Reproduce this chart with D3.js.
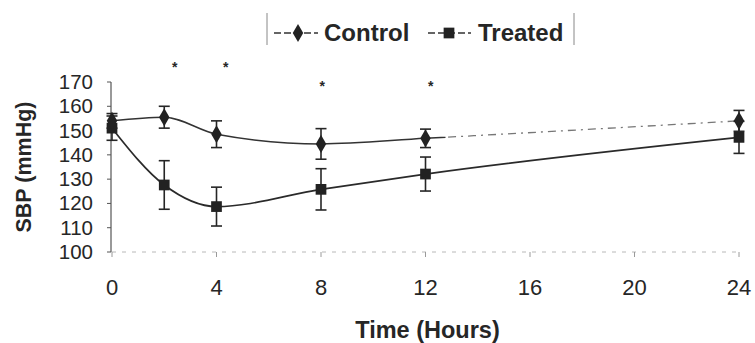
<!DOCTYPE html>
<html>
<head>
<meta charset="utf-8">
<script src="https://cdn.jsdelivr.net/npm/d3@7"></script>
<style>
  html, body { margin: 0; padding: 0; background: #fff; }
  svg { display: block; }
  text { font-family: "Liberation Sans", Arial, sans-serif; fill: #262626; }
</style>
</head>
<body>
<svg id="chart" width="755" height="343"></svg>
<script>
// ---- data ----
const hours = [0, 2, 4, 8, 12, 24];
const controlMean = [154, 155.5, 148.5, 144.5, 146.8, 154];
const controlErr  = [3, 4.5, 5.5, 6.3, 3.8, 4.3];
const treatedMean = [151, 127.6, 118.7, 125.8, 132.1, 147.2];
const treatedErr  = [5, 10, 8, 8.5, 7, 6.6];
const xTicks = [0, 4, 8, 12, 16, 20, 24];
const yTicks = [100, 110, 120, 130, 140, 150, 160, 170];
const asteriskHours  = [2.4, 4.35, 8.05, 12.2];
const asteriskLevels = [177, 177, 169, 169];
const seriesNames = ["Control", "Treated"];
const axisTitles = { x: "Time (Hours)", y: "SBP (mmHg)" };

// ---- layout ----
const svg = d3.select("#chart");
const x = d3.scaleLinear().domain([0, 24]).range([112, 739]);
const y = d3.scaleLinear().domain([100, 170]).range([252, 82]);
const ink = "#262626";

// x axis baseline (faint dotted)
svg.append("line")
  .attr("x1", x(0)).attr("x2", x(24))
  .attr("y1", y(100)).attr("y2", y(100))
  .attr("stroke", "#b8b8b8").attr("stroke-width", 1)
  .attr("stroke-dasharray", "4,6");

// x ticks and labels
const xa = svg.append("g");
xa.selectAll("line.xt").data(xTicks).join("line")
  .attr("x1", d => x(d)).attr("x2", d => x(d))
  .attr("y1", y(100)).attr("y2", y(100) + 5)
  .attr("stroke", "#9a9a9a").attr("stroke-width", 1);
xa.selectAll("text").data(xTicks).join("text")
  .attr("x", d => x(d)).attr("y", 295)
  .attr("text-anchor", "middle")
  .style("font-size", "22px")
  .text(d => d);

// y axis
svg.append("line")
  .attr("x1", 111).attr("x2", 111)
  .attr("y1", y(170)).attr("y2", y(100))
  .attr("stroke", "#555").attr("stroke-width", 1.2);
svg.selectAll("line.yt").data(yTicks).join("line")
  .attr("x1", 107).attr("x2", 111)
  .attr("y1", d => y(d)).attr("y2", d => y(d))
  .attr("stroke", "#555").attr("stroke-width", 1);
svg.selectAll("text.yl").data(yTicks).join("text")
  .attr("class", "yl")
  .attr("x", 93).attr("y", d => y(d) + 7)
  .attr("text-anchor", "end")
  .style("font-size", "20.5px")
  .text(d => d);

// axis titles
svg.append("text")
  .attr("transform", `translate(31, ${(y(100) + y(170)) / 2}) rotate(-90)`)
  .attr("text-anchor", "middle")
  .style("font-size", "21.5px").style("font-weight", "bold")
  .text(axisTitles.y);
svg.append("text")
  .attr("x", (x(0) + x(24)) / 2 + 2).attr("y", 338)
  .attr("text-anchor", "middle")
  .style("font-size", "23.5px").style("font-weight", "bold")
  .text(axisTitles.x);

// clip paths for control line solid/dashed parts
const defs = svg.append("defs");
defs.append("clipPath").attr("id", "leftPart").append("rect")
  .attr("x", 0).attr("y", 0).attr("width", x(12) + 20).attr("height", 343);
defs.append("clipPath").attr("id", "rightPart").append("rect")
  .attr("x", x(12) + 20).attr("y", 0).attr("width", 755).attr("height", 343);

const line = d3.line().x(d => x(d[0])).y(d => y(d[1])).curve(d3.curveMonotoneX);
const cPts = hours.map((h, i) => [h, controlMean[i]]);
const tPts = hours.map((h, i) => [h, treatedMean[i]]);

svg.append("path").attr("d", line(cPts))
  .attr("fill", "none").attr("stroke", "#333").attr("stroke-width", 1.5)
  .attr("clip-path", "url(#leftPart)");
svg.append("path").attr("d", line(cPts))
  .attr("fill", "none").attr("stroke", "#777").attr("stroke-width", 1.3)
  .attr("stroke-dasharray", "8,5,2,5")
  .attr("clip-path", "url(#rightPart)");
svg.append("path").attr("d", line(tPts))
  .attr("fill", "none").attr("stroke", "#2a2a2a").attr("stroke-width", 1.7);

// error bars
function errorBars(means, errs) {
  const g = svg.append("g").attr("stroke", ink).attr("stroke-width", 1.6);
  hours.forEach((h, i) => {
    const cx = x(h), top = y(means[i] + errs[i]), bot = y(means[i] - errs[i]);
    g.append("line").attr("x1", cx).attr("x2", cx).attr("y1", top).attr("y2", bot);
    g.append("line").attr("x1", cx - 5.5).attr("x2", cx + 5.5).attr("y1", top).attr("y2", top);
    g.append("line").attr("x1", cx - 5.5).attr("x2", cx + 5.5).attr("y1", bot).attr("y2", bot);
  });
}
errorBars(controlMean, controlErr);
errorBars(treatedMean, treatedErr);

// markers
const diamond = d3.symbol().type(d3.symbolDiamond).size(95);
const square = d3.symbol().type(d3.symbolSquare).size(115);
svg.selectAll("path.tm").data(tPts).join("path")
  .attr("class", "tm")
  .attr("transform", d => `translate(${x(d[0])},${y(d[1])})`)
  .attr("d", square()).attr("fill", "#222");
svg.selectAll("path.cm").data(cPts).join("path")
  .attr("class", "cm")
  .attr("transform", d => `translate(${x(d[0])},${y(d[1])})`)
  .attr("d", diamond()).attr("fill", "#222");

// significance asterisks
svg.selectAll("text.ast").data(asteriskHours).join("text")
  .attr("class", "ast")
  .attr("x", d => x(d)).attr("y", (d, i) => y(asteriskLevels[i]) + 7)
  .attr("text-anchor", "middle")
  .style("font-size", "14px").style("font-weight", "bold")
  .text("*");

// legend
const lg = svg.append("g");
lg.append("line").attr("x1", 267).attr("x2", 267).attr("y1", 13).attr("y2", 45)
  .attr("stroke", "#888").attr("stroke-width", 1);
lg.append("line").attr("x1", 574).attr("x2", 574).attr("y1", 13).attr("y2", 45)
  .attr("stroke", "#888").attr("stroke-width", 1);
const legendItems = [
  { name: seriesNames[0], x0: 274, x1: 318, mx: 298, tx: 324, sym: diamond },
  { name: seriesNames[1], x0: 428, x1: 471, mx: 449, tx: 478, sym: square }
];
legendItems.forEach(it => {
  lg.append("line").attr("x1", it.x0).attr("x2", it.x1).attr("y1", 33).attr("y2", 33)
    .attr("stroke", "#333").attr("stroke-width", 1.5).attr("stroke-dasharray", "7,3");
  lg.append("path").attr("transform", `translate(${it.mx},33)`).attr("d", it.sym()).attr("fill", "#222");
  lg.append("text").attr("x", it.tx).attr("y", 41)
    .style("font-size", "24px").style("font-weight", "bold")
    .text(it.name);
});
</script>
</body>
</html>
